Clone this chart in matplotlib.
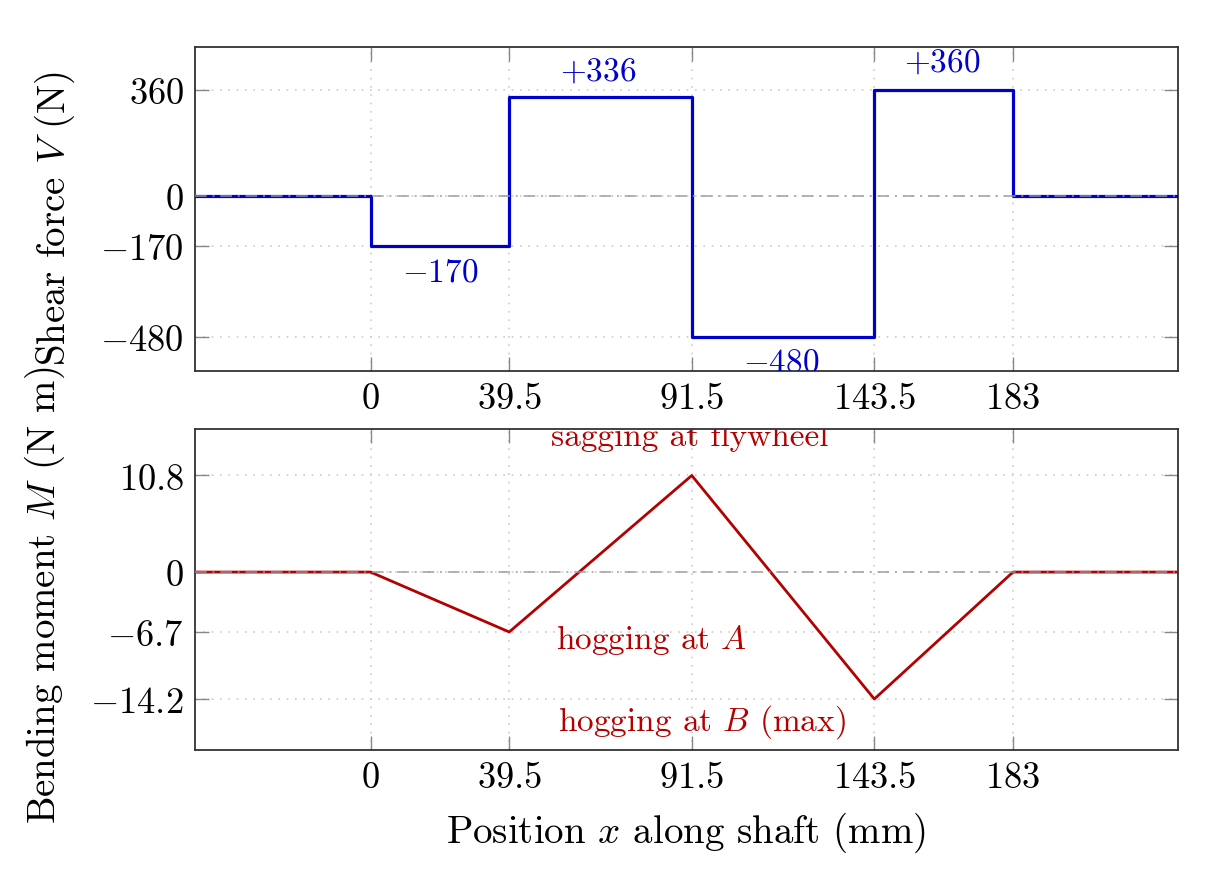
import matplotlib
matplotlib.use("Agg")
import matplotlib.pyplot as plt

plt.rcParams['font.family'] = 'serif'
plt.rcParams['font.serif'] = ['cmr10', 'DejaVu Serif']
plt.rcParams['mathtext.fontset'] = 'cm'
plt.rcParams['axes.formatter.use_mathtext'] = True

# ---- data ----
x_pos = [-50, 0, 39.5, 91.5, 143.5, 183, 230]
shear = [0, -170, 336, -480, 360, 0, 0]
moment = [0, 0, -6.7, 10.8, -14.2, 0, 0]

x_ticks = [0, 39.5, 91.5, 143.5, 183]
x_ticklabels = ['$0$', '$39.5$', '$91.5$', '$143.5$', '$183$']
v_ticks = [-480, -170, 0, 360]
v_ticklabels = ['$-480$', '$-170$', '$0$', '$360$']
m_ticks = [-14.2, -6.7, 0, 10.8]
m_ticklabels = ['$-14.2$', '$-6.7$', '$0$', '$10.8$']

shear_notes = [(64.8, 425, '$+336$'), (162.8, 455, '$+360$'),
               (19.9, -258, '$-170$'), (117, -564, '$-480$')]
moment_notes = [(91, 15.2, 'sagging at flywheel'),
                (80.1, -7.5, 'hogging at $A$'),
                (94.3, -16.7, 'hogging at $B$ (max)')]

BLUE = '#0000CC'
RED = '#B30000'
FS_TICK = 26.3
FS_NOTE = 24
FS_LABEL = 28

W, H = 1215, 878
fig = plt.figure(figsize=(W / 100, H / 100), dpi=100)
ax1 = fig.add_axes([195 / W, 1 - 372 / H, 983 / W, 324 / H])
ax2 = fig.add_axes([195 / W, 1 - 751 / H, 983 / W, 321 / H])


def style(ax, yticks, ylabels):
    ax.set_xlim(-50, 230)
    ax.set_xticks(x_ticks)
    ax.set_xticklabels(x_ticklabels)
    ax.set_yticks(yticks)
    ax.set_yticklabels(ylabels)
    ax.tick_params(direction='in', length=10, width=1, color='#888888',
                   top=True, right=True, labelsize=FS_TICK, pad=8)
    ax.grid(True, color='#cccccc', linestyle=(0, (1, 4)), linewidth=1.2)
    ax.set_axisbelow(True)
    for s in ax.spines.values():
        s.set_color('#333333')
        s.set_linewidth(1.3)
    ax.axhline(0, color='#999999', linestyle=(0, (6, 3, 1, 3)),
               linewidth=1.4, alpha=0.75, zorder=4)


style(ax1, v_ticks, v_ticklabels)
style(ax2, m_ticks, m_ticklabels)
ax1.set_ylim(-595, 506)
ax2.set_ylim(-19.9, 16.0)

ax1.step(x_pos, shear, where='post', color=BLUE, linewidth=2.3, zorder=3)
ax2.plot(x_pos, moment, color=RED, linewidth=2.0, zorder=3)

for x, y, t in shear_notes:
    ax1.text(x, y, t, color=BLUE, fontsize=FS_NOTE, ha='center', va='center', clip_on=True)
for x, y, t in moment_notes:
    ax2.text(x, y, t, color=RED, fontsize=FS_NOTE, ha='center', va='center', clip_on=True)

ax1.set_ylabel('Shear force $V$ (N)', fontsize=FS_LABEL, va='center')
ax1.yaxis.set_label_coords(-0.1424, 0.475)
ax2.set_ylabel('Bending moment $M$ (N m)', fontsize=FS_LABEL, va='center')
ax2.yaxis.set_label_coords(-0.1526, 0.486)
ax2.set_xlabel('Position $x$ along shaft (mm)', fontsize=FS_LABEL, va='center')
ax2.xaxis.set_label_coords(0.5, (751 - 833) / 321)

fig.savefig('out.png', dpi=100)
